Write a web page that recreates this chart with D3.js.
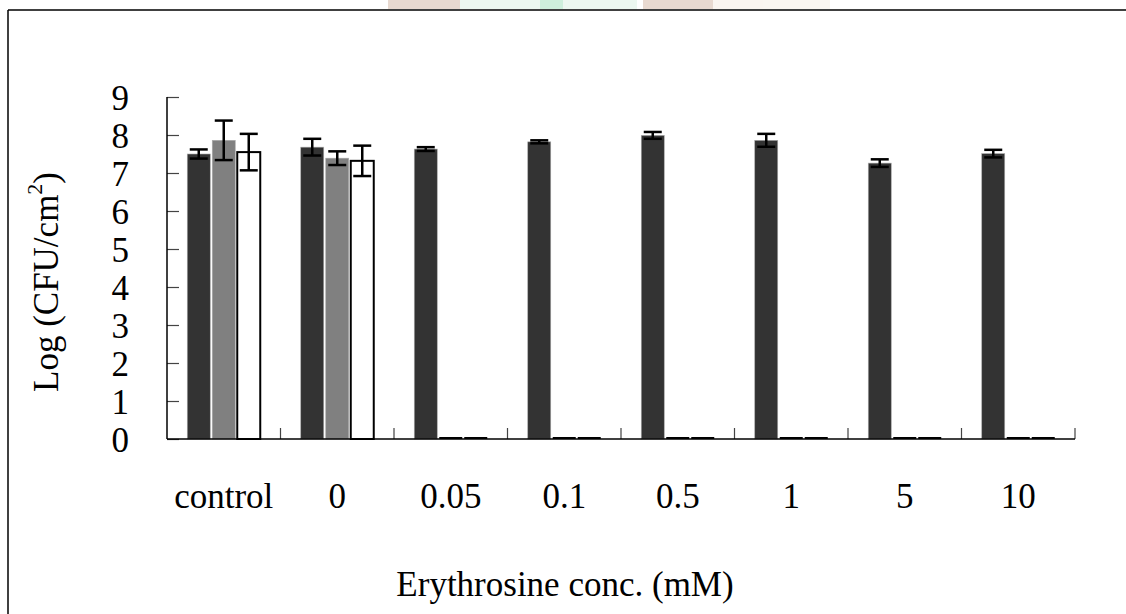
<!DOCTYPE html>
<html>
<head>
<meta charset="utf-8">
<script src="https://cdn.jsdelivr.net/npm/d3@7"></script>
<style>
  body { margin: 0; background: #fff; }
  text { font-family: "Liberation Serif", "Times New Roman", serif; fill: #000; }
</style>
</head>
<body>
<div id="chart"></div>
<script>
// Erythrosine bar chart //////////////////////////////////////////////////////

var categories = ['control', '0', '0.05', '0.1', '0.5', '1', '5', '10'];
var series = ['s1', 's2', 's3'];

var valuesS1 = [7.50, 7.68, 7.63, 7.82, 7.99, 7.86, 7.26, 7.51];
var errorsS1 = [0.12, 0.22, 0.05, 0.04, 0.09, 0.17, 0.10, 0.10];
var valuesS2 = [7.86, 7.39, 0, 0, 0, 0, 0, 0];
var errorsS2 = [0.52, 0.18, 0, 0, 0, 0, 0, 0];
var valuesS3 = [7.55, 7.32, 0, 0, 0, 0, 0, 0];
var errorsS3 = [0.48, 0.40, 0, 0, 0, 0, 0, 0];

var yTicks = [0, 1, 2, 3, 4, 5, 6, 7, 8, 9];

///////////////////////////////////////////////////////////////////////////////

var width = 1126;
var height = 614;
var plotLeft = 167, plotRight = 1075, plotTop = 97, plotBottom = 439;
var barWidth = 25;

var fills = { s1: '#333333', s2: '#808080', s3: '#ffffff' };
var values = { s1: valuesS1, s2: valuesS2, s3: valuesS3 };
var errors = { s1: errorsS1, s2: errorsS2, s3: errorsS3 };

var svg = d3.select('#chart').append('svg')
  .attr('width', width)
  .attr('height', height);

// faint watermark strip at the very top
var strip = svg.append('g').attr('opacity', 0.9);
strip.append('rect').attr('x', 388).attr('y', 0).attr('width', 72).attr('height', 9).style('fill', '#e6d5cb');
strip.append('rect').attr('x', 460).attr('y', 0).attr('width', 177).attr('height', 9).style('fill', '#eaf7ef');
strip.append('rect').attr('x', 540).attr('y', 0).attr('width', 23).attr('height', 9).style('fill', '#c9eed9');
strip.append('rect').attr('x', 643).attr('y', 0).attr('width', 70).attr('height', 9).style('fill', '#e6d5cb');
strip.append('rect').attr('x', 713).attr('y', 0).attr('width', 117).attr('height', 9).style('fill', '#faf5ef');

// frame
svg.append('line').attr('x1', 8).attr('x2', width).attr('y1', 10).attr('y2', 10)
  .style('stroke', '#000').style('stroke-width', 1.5);
svg.append('line').attr('x1', 8).attr('x2', 8).attr('y1', 10).attr('y2', height)
  .style('stroke', '#000').style('stroke-width', 1.5);

///////////////////////////////////////////////////////////////////////////////

var x = d3.scaleBand().domain(categories).range([plotLeft, plotRight]);
var xSub = d3.scaleBand().domain(series).range([0, barWidth * series.length]);
var groupOffset = (x.bandwidth() - barWidth * series.length) / 2;
var y = d3.scaleLinear().domain([0, 9]).range([plotBottom, plotTop]);

// y axis, ticks pointing inwards
var yAxis = svg.append('g')
  .attr('transform', 'translate(' + plotLeft + ',0)')
  .call(d3.axisRight(y).tickValues(yTicks).tickSize(12).tickFormat(''));
yAxis.select('.domain').remove();
yAxis.selectAll('.tick line').style('stroke', '#444').style('stroke-width', 1.2);
svg.append('line').attr('x1', plotLeft).attr('x2', plotLeft).attr('y1', plotTop).attr('y2', plotBottom)
  .style('stroke', '#000').style('stroke-width', 1.5);

svg.append('g').selectAll('text')
  .data(yTicks)
  .enter().append('text')
  .attr('x', 129)
  .attr('y', function(d){ return y(d) + 13; })
  .attr('text-anchor', 'end')
  .style('font-size', '35px')
  .text(function(d){ return d; });

// bars
var groups = svg.append('g').selectAll('g')
  .data(categories)
  .enter().append('g')
  .attr('transform', function(d){ return 'translate(' + (x(d) + groupOffset) + ',0)'; });

var bars = groups.selectAll('g')
  .data(function(d, i){
    return series.map(function(s){ return { s: s, v: values[s][i], e: errors[s][i] }; });
  })
  .enter().append('g');

bars.filter(function(d){ return d.v > 0; }).append('rect')
  .attr('x', function(d){ return xSub(d.s) + 1; })
  .attr('y', function(d){ return y(d.v); })
  .attr('width', barWidth - 2)
  .attr('height', function(d){ return y(0) - y(d.v); })
  .style('fill', function(d){ return fills[d.s]; })
  .style('stroke', function(d){ return d.s === 's3' ? '#000' : '#aaa'; })
  .style('stroke-width', function(d){ return d.s === 's3' ? 2 : 0.6; });

// zero-height bars show as a flat black line
bars.filter(function(d){ return d.v === 0; }).append('line')
  .attr('x1', function(d){ return xSub(d.s) + 1; })
  .attr('x2', function(d){ return xSub(d.s) + barWidth - 1; })
  .attr('y1', y(0) - 1)
  .attr('y2', y(0) - 1)
  .style('stroke', '#000')
  .style('stroke-width', 2);

// error bars
var err = bars.filter(function(d){ return d.e > 0; });
var cx = function(d){ return xSub(d.s) + barWidth / 2; };
err.append('line')
  .attr('x1', cx).attr('x2', cx)
  .attr('y1', function(d){ return y(d.v + d.e); })
  .attr('y2', function(d){ return y(d.v - d.e); })
  .style('stroke', '#000').style('stroke-width', 2.5);
[1, -1].forEach(function(sign){
  err.append('line')
    .attr('x1', function(d){ return cx(d) - 9; })
    .attr('x2', function(d){ return cx(d) + 9; })
    .attr('y1', function(d){ return y(d.v + sign * d.e); })
    .attr('y2', function(d){ return y(d.v + sign * d.e); })
    .style('stroke', '#000').style('stroke-width', 2.5);
});

// x axis with ticks between categories, pointing up
var xAxis = svg.append('g')
  .attr('transform', 'translate(0,' + plotBottom + ')');
xAxis.selectAll('line')
  .data(categories)
  .enter().append('line')
  .attr('x1', function(d){ return x(d) + x.bandwidth(); })
  .attr('x2', function(d){ return x(d) + x.bandwidth(); })
  .attr('y1', 0).attr('y2', -11)
  .style('stroke', '#444').style('stroke-width', 1.2);
xAxis.append('line').attr('x1', plotLeft).attr('x2', plotRight).attr('y1', 0).attr('y2', 0)
  .style('stroke', '#000').style('stroke-width', 1.5);

svg.append('g').selectAll('text')
  .data(categories)
  .enter().append('text')
  .attr('x', function(d){ return x(d) + x.bandwidth() / 2; })
  .attr('y', 508)
  .attr('text-anchor', 'middle')
  .style('font-size', '35px')
  .text(function(d){ return d; });

// axis titles
svg.append('text')
  .attr('x', 565)
  .attr('y', 596)
  .attr('text-anchor', 'middle')
  .style('font-size', '35px')
  .text('Erythrosine conc. (mM)');

var yTitle = svg.append('text')
  .attr('transform', 'translate(58,282) rotate(-90)')
  .attr('text-anchor', 'middle')
  .style('font-size', '35px');
yTitle.append('tspan').text('Log (CFU/cm');
yTitle.append('tspan').attr('dy', -16).style('font-size', '22px').text('2');
yTitle.append('tspan').attr('dy', 16).text(')');
</script>
</body>
</html>
